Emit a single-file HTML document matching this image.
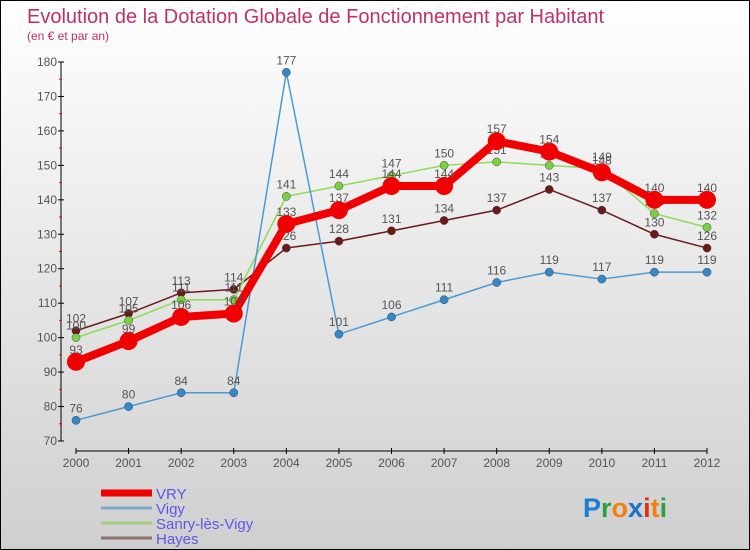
<!DOCTYPE html>
<html><head><meta charset="utf-8"><style>
body{margin:0}
#c{position:relative;width:750px;height:550px;box-sizing:border-box;border:1px solid #000;background:linear-gradient(#fff,#cfcfcf);font-family:"Liberation Sans","DejaVu Sans",sans-serif;overflow:hidden}
</style></head><body>
<div id="c">
<svg id="s" width="748" height="548" style="position:absolute;left:0;top:0">
<text x="26" y="22" font-size="20" fill="#c0306a">Evolution de la Dotation Globale de Fonctionnement par Habitant</text>
<text x="26" y="39" font-size="12" fill="#c0306a">(en € et par an)</text>
<g id="ax"></g><g id="series"></g><g id="lg"></g>
<text x="582" y="516" font-size="27" font-weight="bold"><tspan fill="#1a7fd4">P</tspan><tspan fill="#2da043">r</tspan><tspan fill="#f08010">o</tspan><tspan fill="#1a6fd0">x</tspan><tspan fill="#e03010">i</tspan><tspan fill="#f08010">t</tspan><tspan fill="#2da043">i</tspan></text>
</svg>
</div>
<script>
const years=[2000,2001,2002,2003,2004,2005,2006,2007,2008,2009,2010,2011,2012];
const vry=[93,99,106,107,133,137,144,144,157,154,148,140,140];
const vigy=[76,80,84,84,177,101,106,111,116,119,117,119,119];
const sanry=[100,105,111,111,141,144,147,150,151,150,149,136,132];
const hayes=[102,107,113,114,126,128,131,134,137,143,137,130,126];
const yTicks=[70,80,90,100,110,120,130,140,150,160,170,180];
const NS="http://www.w3.org/2000/svg";
function X(i){return 75+i*(706-75)/12;}
function Y(v){return 440-(v-70)*(440-61)/110;}
function mk(t,a,p){const e=document.createElementNS(NS,t);for(const k in a)e.setAttribute(k,a[k]);p.appendChild(e);return e;}
const ax=document.getElementById('ax');
let l=mk('line',{x1:60,y1:61,x2:60,y2:440,stroke:'#000'},ax);


yTicks.forEach((v,i)=>{
 mk('line',{x1:57,x2:63,y1:Y(v),y2:Y(v),stroke:'#000'},ax);
 if(i<yTicks.length-1)mk('line',{x1:58,x2:61,y1:Y(v+5),y2:Y(v+5),stroke:'#f00'},ax);
 const t=mk('text',{x:56,y:Y(v)+4,'font-size':12,fill:'#555','text-anchor':'end'},ax);t.textContent=v;
 
 
});
l=mk('line',{x1:75,y1:450,x2:706,y2:450,stroke:'#000'},ax);


years.forEach((y,i)=>{
 mk('line',{x1:X(i),x2:X(i),y1:447,y2:453,stroke:'#000'},ax);
 const t=mk('text',{x:X(i),y:466,'font-size':12,fill:'#555','text-anchor':'middle'},ax);t.textContent=y;
 
 
});
const S=document.getElementById('series');
const defs=[[hayes,'#6b1a1a',1.5,4.5,'hayes'],[sanry,'#8edc5a',1.5,4.5,'sanry-les-vigy'],[vigy,'#4a9ad4',1.5,4.5,'vigy'],[vry,'#f00000',8,9,'vry']];
const fills={hayes:'#6b1a1a','sanry-les-vigy':'#7ad040',vigy:'#3388cc',vry:'#f00000'};
defs.forEach(([d,c,w,r,n])=>{
 const g=mk('g',{},S);
 
 
 const p=mk('polyline',{points:d.map((v,i)=>X(i)+','+Y(v)).join(' '),fill:'none',stroke:c,'stroke-width':w,'stroke-linejoin':'round'},g);
 
 
 d.forEach((v,i)=>{
  const ci=mk('circle',{cx:X(i),cy:Y(v),r:r/ (n==='vry'?1:1.1),fill:fills[n],stroke:n==='vry'?'none':'#444','stroke-width':0.5},g);
  
  
  const t=mk('text',{x:X(i),y:Y(v)-8,'font-size':12,fill:'#555','text-anchor':'middle'},g);t.textContent=v;
  
  
 });
});
const lg=document.getElementById('lg');
[['VRY','#f00000',7],['Vigy','#80a8c8',3],['Sanry-lès-Vigy','#a0d080',3],['Hayes','#907070',3]].forEach(([n,c,w],i)=>{
 const y=492+i*15;
 const g=mk('g',{},lg);
 
 
 mk('line',{x1:100,x2:151,y1:y,y2:y,stroke:c,'stroke-width':w},g);
 const t=mk('text',{x:155,y:y+6,'font-size':15,fill:'#5a5ae8'},g);t.textContent=n;
});
</script>
</body></html>
